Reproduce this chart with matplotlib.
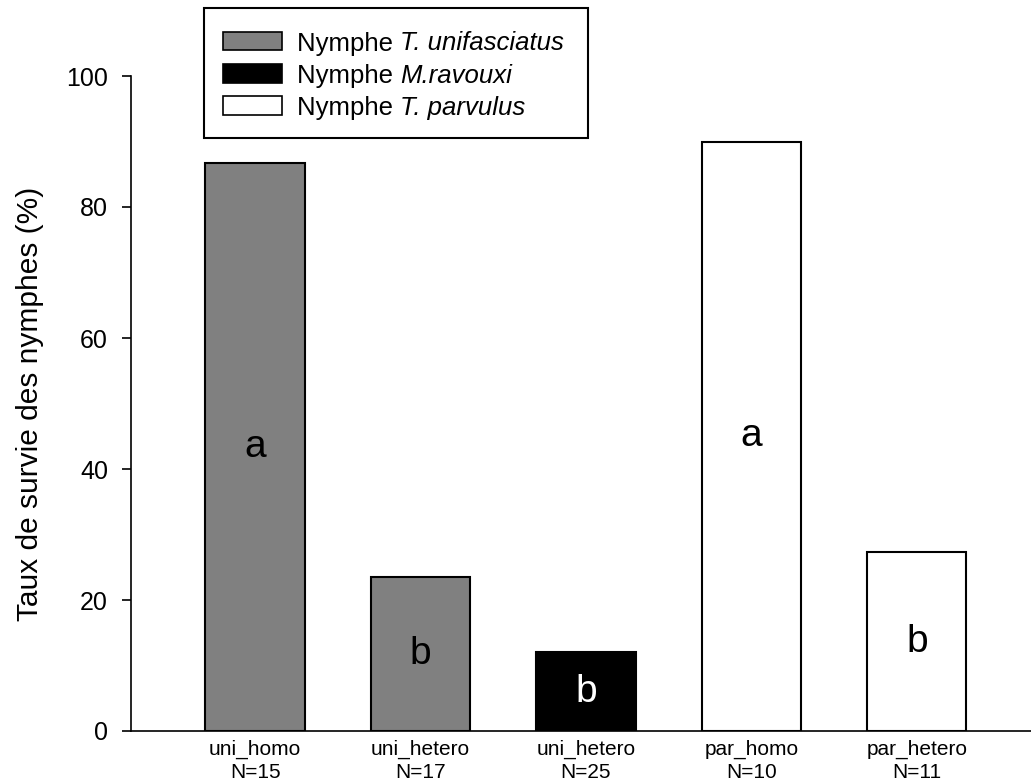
import matplotlib
matplotlib.use("Agg")
import matplotlib.pyplot as plt
from matplotlib.patches import Rectangle
from matplotlib.text import Annotation

plt.rcParams['font.family'] = ['Liberation Sans', 'DejaVu Sans']

categories = ["uni_homo\nN=15", "uni_hetero\nN=17", "uni_hetero\nN=25", "par_homo\nN=10", "par_hetero\nN=11"]
values = [86.7, 23.5, 12.0, 90.0, 27.3]
letters = ["a", "b", "b", "a", "b"]
bar_colors = ["#808080", "#808080", "#000000", "#ffffff", "#ffffff"]
letter_colors = ["black", "black", "white", "black", "black"]
legend_prefix = ["Nymphe", "Nymphe", "Nymphe"]
legend_species = ["T. unifasciatus", "M.ravouxi", "T. parvulus"]
legend_colors = ["#808080", "#000000", "#ffffff"]
yticks = [0, 20, 40, 60, 80, 100]

W, H = 1031, 782
fig = plt.figure(figsize=(W / 100, H / 100), dpi=100)
ax = fig.add_axes([131 / W, 1 - 731 / H, (1031 - 131) / W, (731 - 76) / H])

x = list(range(len(values)))
ax.bar(x, values, width=0.6, color=bar_colors, edgecolor="black", linewidth=1.5, zorder=2)
for xi, v, lt, lc in zip(x, values, letters, letter_colors):
    ax.text(xi, v / 2, lt, ha="center", va="center", fontsize=28, color=lc, zorder=3)

ax.set_xlim(-0.75, 4.69)
ax.set_ylim(0, 100)
ax.set_yticks(yticks)
ax.set_xticks(x)
ax.set_xticklabels(categories, fontsize=15, linespacing=1.3)
ax.tick_params(axis="x", length=0, pad=6)
ax.tick_params(axis="y", length=6.5, width=1.2, labelsize=18, pad=10, direction="out")
for s in ["top", "right"]:
    ax.spines[s].set_visible(False)
for s in ["left", "bottom"]:
    ax.spines[s].set_linewidth(1.2)
ax.spines["bottom"].set_zorder(4)
ax.set_ylabel("Taux de survie des nymphes (%)", fontsize=21.5, labelpad=16)


# manual legend (figure pixel coordinates, origin top-left)
def fx(px):
    return px / W


def fy(py):
    return 1 - py / H


fig.add_artist(Rectangle((fx(204), fy(138)), fx(588) - fx(204), fy(8) - fy(138),
                         transform=fig.transFigure, facecolor="white",
                         edgecolor="black", linewidth=1.5, zorder=5))
row_centers = [41, 73.5, 105.5]
for yc, col, pre, sp in zip(row_centers, legend_colors, legend_prefix, legend_species):
    fig.add_artist(Rectangle((fx(223), fy(yc + 9)), fx(282) - fx(223), fy(yc - 9) - fy(yc + 9),
                             transform=fig.transFigure, facecolor=col,
                             edgecolor="black", linewidth=1.2, zorder=6))
    t = fig.text(fx(297), fy(yc), pre + " ", fontsize=18.5, va="center_baseline",
                 ha="left", zorder=7)
    a = Annotation(sp, xy=(1, 0), xycoords=t, va="bottom", ha="left",
                   fontsize=18.5, style="italic", annotation_clip=False, zorder=7)
    fig.add_artist(a)

fig.savefig("out.png", dpi=100)
